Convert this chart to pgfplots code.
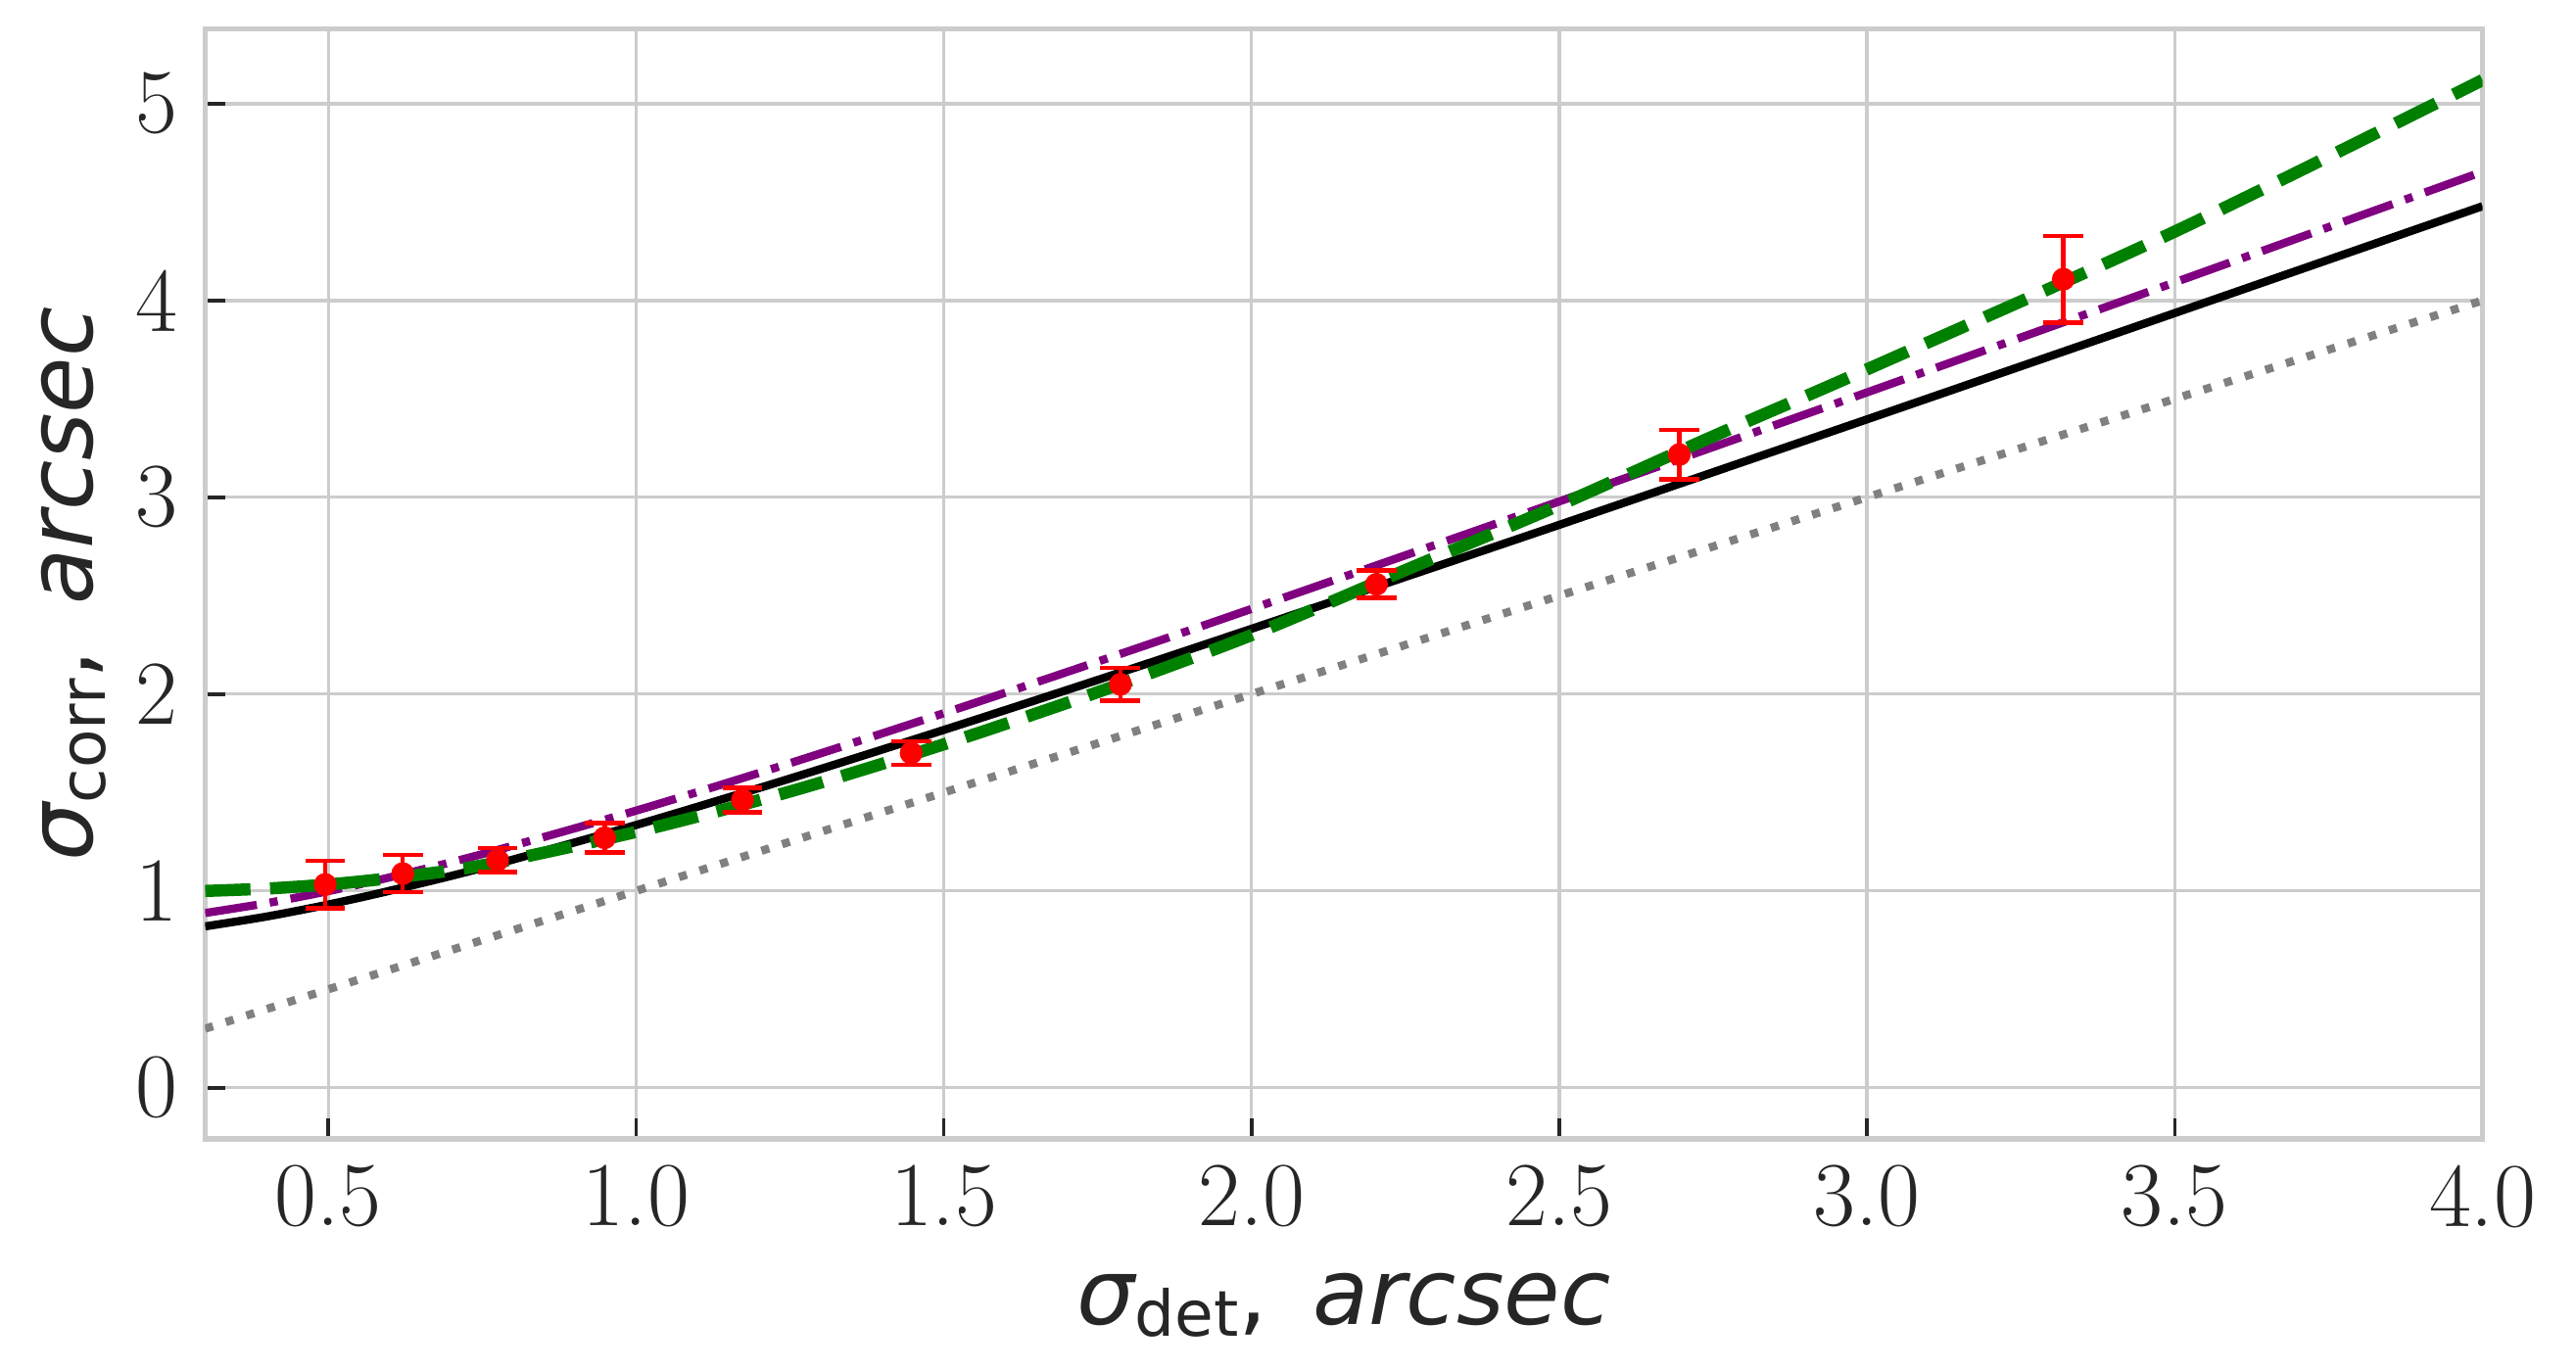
\documentclass[border=0pt]{standalone}
\usepackage{fontspec}
\usepackage{pgfplots}
\pgfplotsset{compat=1.18}
\newfontfamily\djv{DejaVu Sans}
\definecolor{gridc}{HTML}{CCCCCC}
\definecolor{tickc}{HTML}{262626}
\definecolor{mpurple}{HTML}{800080}
\definecolor{mgreen}{HTML}{008000}
\definecolor{mgray}{HTML}{808080}
\newcommand{\lab}[1]{{\djv\itshape σ}\raisebox{-3pt}{\fontsize{15.5}{18}\selectfont\djv #1}{\djv ,}\hspace{11pt}{\djv\itshape arcsec}}

\pgfplotstableread{
x y e
0.495 1.033 0.120
0.621 1.088 0.095
0.775 1.157 0.060
0.949 1.270 0.075
1.173 1.462 0.063
1.447 1.701 0.060
1.787 2.050 0.083
2.203 2.558 0.070
2.695 3.217 0.126
3.319 4.108 0.220
}\datatab

\begin{document}
\begin{tikzpicture}
\begin{axis}[name=ax, scale only axis, width=558pt, height=272.04pt,
  xmin=0.3, xmax=4.0, ymin=-0.26, ymax=5.38,
  xtick={0.5,1.0,1.5,2.0,2.5,3.0,3.5,4.0},
  xticklabels={0.5,1.0,1.5,2.0,2.5,3.0,3.5,4.0},
  ytick={0,1,2,3,4,5},
  yticklabels={0,1,2,3,4,5},
  grid=major, major grid style={color=gridc, line width=0.8pt},
  axis line style={color=gridc, line width=1.25pt},
  tick align=inside, tick pos=left, major tick length=5pt,
  major tick style={color=tickc, line width=0.85pt},
  tick label style={font=\fontsize{22.4}{27}\selectfont, color=tickc},
  x tick label style={inner sep=0pt, yshift=-6.2pt},
  y tick label style={inner sep=0pt, xshift=-6.5pt},
  xlabel={\lab{det}}, ylabel={\lab{corr}},
  label style={font=\fontsize{22.4}{27}\selectfont, color=tickc},
  xlabel style={at={(axis description cs:0.5,-0.1669)}, anchor=base},
  ylabel style={at={(axis description cs:-0.04946,0.5)}, anchor=base},
]
\addplot[black, line width=2pt, smooth] coordinates {
(0.3,0.820) (0.4,0.870) (0.5,0.931) (0.6,1.001) (0.75,1.117) (1.0,1.335)
(1.25,1.571) (1.5,1.818) (1.75,2.072) (2.0,2.332) (2.5,2.860) (3.0,3.396)
(3.5,3.936) (4.0,4.479)};
\addplot[mpurple, line width=2pt, smooth, dash pattern=on 12.8pt off 3.2pt on 2pt off 3.2pt] coordinates {
(0.3,0.888) (0.4,0.938) (0.5,0.999) (0.6,1.069) (0.75,1.187) (1.0,1.408)
(1.25,1.649) (1.5,1.903) (1.75,2.165) (2.0,2.433) (2.5,2.979) (3.0,3.533)
(3.5,4.092) (4.0,4.654)};
\addplot[mgreen, line width=3pt, smooth, dash pattern=on 11.1pt off 4.8pt] coordinates {
(0.3,1.000) (0.4,1.012) (0.5,1.033) (0.6,1.065) (0.75,1.130) (1.0,1.300)
(1.25,1.505) (1.5,1.745) (1.75,2.010) (2.0,2.300) (2.25,2.630) (2.5,2.960)
(2.75,3.310) (3.0,3.650) (3.5,4.350) (4.0,5.120)};
\addplot[mgray, line width=2pt, dash pattern=on 2pt off 3.3pt] coordinates {
(0.3,0.3) (4.0,4.0)};
\addplot[only marks, mark=*, mark size=2.6pt, color=red,
  mark options={fill=red, draw=red},
  error bars/.cd, y dir=both, y explicit,
  error bar style={line width=1.1pt, red},
  error mark options={rotate=90, line width=1.1pt, mark size=4.9pt, red}]
  table[x=x, y=y, y error=e] {\datatab};
\end{axis}
\pgfresetboundingbox
\path ([xshift=-50.28pt, yshift=-56.64pt]ax.south west) rectangle ([xshift=22.92pt, yshift=7.08pt]ax.north east);
\end{tikzpicture}
\end{document}
